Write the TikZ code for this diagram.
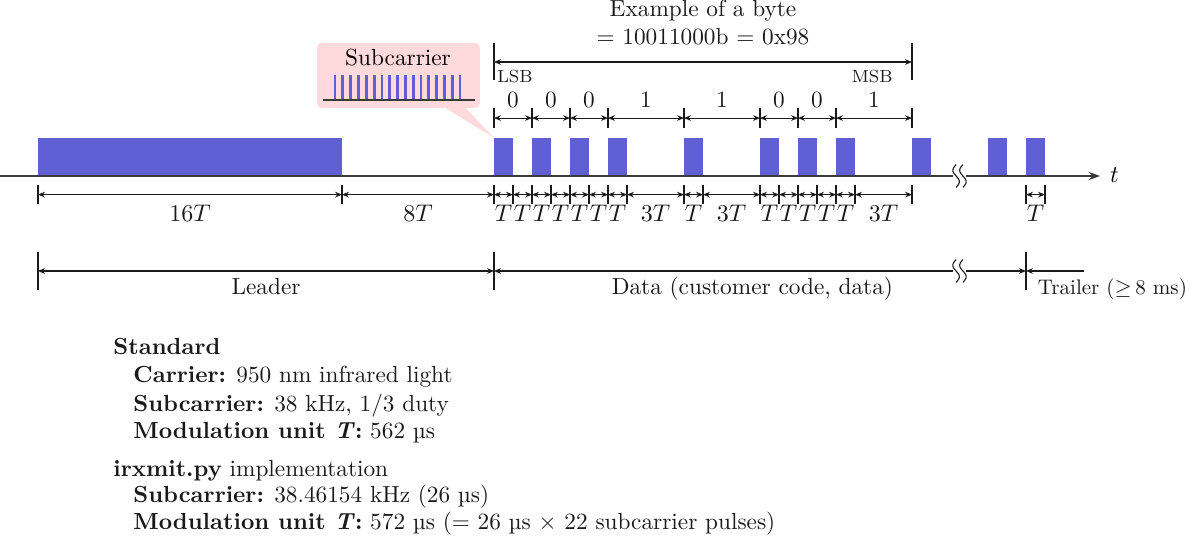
\documentclass[tikz,border=0pt]{standalone}
\usepackage{amsmath,amssymb}
\usepackage{tikz}
\usepackage{xcolor}
\usetikzlibrary{arrows.meta,positioning,calc}
\definecolor{pulseblue}{HTML}{6060D4}
\definecolor{calloutpink}{HTML}{FFDADD}
\definecolor{axisgray}{HTML}{3A3A3A}
\definecolor{ink}{HTML}{1A1A1A}
\newcommand{\lblfont}{\fontsize{10.6pt}{12.7pt}\selectfont}
\tikzset{
  pulse/.style={fill=pulseblue,draw=none},
  timeaxis/.style={draw=axisgray,line width=0.8pt},
  axisarr/.style={-{Stealth[length=1.8mm,width=1.3mm]},draw=axisgray,line width=0.8pt},
  dimarr/.style={{Stealth[length=1.1mm,width=0.9mm]}-{Stealth[length=1.1mm,width=0.9mm]},
                 draw=ink,line width=0.5pt},
  dimarrl/.style={{Stealth[length=1.1mm,width=0.9mm]}-,draw=ink,line width=0.5pt},
  dimarrr/.style={-{Stealth[length=1.1mm,width=0.9mm]},draw=ink,line width=0.5pt},
  dimtick/.style={draw=ink,line width=0.5pt},
  dimlabel/.style={font=\lblfont,inner sep=0pt,anchor=base,text=ink},
  smalllabel/.style={font=\footnotesize,inner sep=0pt,text=ink},
  notetext/.style={font=\lblfont,inner sep=0pt,anchor=base west,text=ink},
  brkline/.style={draw=ink,line width=0.5pt}
}

\begin{document}
\begin{tikzpicture}[x=0.304cm,y=0.304cm]
  \useasboundingbox (-2,-19.842) rectangle (61.158,9.263);

  % subcarrier callout
  \fill[calloutpink,rounded corners=0.25cm*0.304] (14.68,3.58) rectangle (23.26,7.0);
  \fill[calloutpink] (21.25,3.7) -- (24,2.0) -- (22.4,3.7) -- cycle;
  \node[font=\lblfont,inner sep=0pt,anchor=base] (subcar) at (18.95,5.84) {Subcarrier};
  \foreach \i in {0,...,16}
    \fill[pulse] ({15.56+0.411*\i},4.0) rectangle ++(0.15,1.32);
  \draw[axisgray,line width=0.6pt] (15,4) -- (23,4);

  % pulses
  \fill[pulse] (0,0) rectangle (16,2);
  \foreach \p in {24,26,28,30,34,38,40,42,46,50,52}
    \fill[pulse] (\p,0) rectangle ++(1,2);

  % time axis with break
  \draw[timeaxis] (-2,0) -- (48.15,0);
  \draw[axisarr] (48.85,0) -- (55.9,0);
  \node[font=\lblfont\itshape,inner sep=0pt,anchor=west] (tlabel) at (56.4,0.05) {$t$};
  \foreach \bx in {48.32,48.68}
    \draw[brkline] plot[domain=-0.6:0.6,samples=30,smooth] ({\bx-0.17*sin(300*\x)},\x);

  % unit durations
  \foreach \tx in {0,16,24,25,26,27,28,29,30,31,34,35,38,39,40,41,42,43,46,52,53}
    \draw[dimtick] (\tx,-0.48) -- (\tx,-1.48);
  \foreach \a/\b/\txt in {0/16/16T,16/24/8T,24/25/T,25/26/T,26/27/T,27/28/T,28/29/T,
      29/30/T,30/31/T,31/34/3T,34/35/T,35/38/3T,38/39/T,39/40/T,40/41/T,41/42/T,
      42/43/T,43/46/3T,52/53/T} {
    \draw[dimarr] (\a,-0.98) -- (\b,-0.98);
    \node[dimlabel] at ({(\a+\b)/2},-2.4) {$\txt$};
  }

  % bits
  \foreach \tx in {24,26,28,30,34,38,40,42,46}
    \draw[dimtick] (\tx,2.55) -- (\tx,3.58);
  \foreach \a/\b/\bit in {24/26/0,26/28/0,28/30/0,30/34/1,34/38/1,38/40/0,40/42/0,42/46/1} {
    \draw[dimarr] (\a,3.05) -- (\b,3.05);
    \node[dimlabel] at ({(\a+\b)/2},3.62) {\bit};
  }

  % byte
  \draw[dimtick] (24,5.05) -- (24,7.0);
  \draw[dimtick] (46,5.05) -- (46,7.0);
  \draw[dimarr] (24,6.0) -- (46,6.0);
  \node[smalllabel,anchor=base west] (lsb) at (24.15,4.9) {LSB};
  \node[smalllabel,anchor=base east] (msb) at (45.0,4.9) {MSB};
  \node[dimlabel] (bytetitle) at (35,8.37) {Example of a byte};
  \node[dimlabel] (bytevalue) at (35,6.9) {= 10011000b = 0x98};

  % frame parts
  \foreach \tx in {0,24,52}
    \draw[dimtick] (\tx,-4) -- (\tx,-6);
  \draw[dimarr] (0,-5) -- (24,-5);
  \draw[dimarrl] (24,-5) -- (48.15,-5);
  \draw[dimarrr] (48.85,-5) -- (52,-5);
  \draw[dimarrl] (52,-5) -- (55.05,-5);
  \foreach \bx in {48.32,48.68}
    \draw[brkline] plot[domain=-0.6:0.6,samples=30,smooth] ({\bx-0.17*sin(300*\x)},{\x-5});
  \node[dimlabel] (leader) at (12,-6.26) {Leader};
  \node[dimlabel] (data) at (37.6,-6.26) {Data (customer code, data)};
  \node[notetext,font=\fontsize{9.6pt}{11.5pt}\selectfont] (trailer) at (52.6,-6.26)
    {Trailer ($\geq$\,8 ms)};

  % notes
  \node[notetext] (std) at (3.95,-9.42) {\textbf{Standard}};
  \node[notetext] (stdcar) at (5.0,-10.89) {\textbf{Carrier:} 950 nm infrared light};
  \node[notetext] (stdsub) at (5.0,-12.37) {\textbf{Subcarrier:} 38 kHz, 1/3 duty};
  \node[notetext] (stdmod) at (5.0,-13.79) {\textbf{Modulation unit \textit{T}:} 562 \textmu s};
  \node[notetext] (impl) at (3.95,-15.84) {\textbf{irxmit.py} implementation};
  \node[notetext] (implsub) at (5.0,-17.21) {\textbf{Subcarrier:} 38.46154 kHz (26 \textmu s)};
  \node[notetext] (implmod) at (5.0,-18.63)
    {\textbf{Modulation unit \textit{T}:} 572 \textmu s (= 26 \textmu s \texttimes{} 22 subcarrier pulses)};
\end{tikzpicture}
\end{document}
